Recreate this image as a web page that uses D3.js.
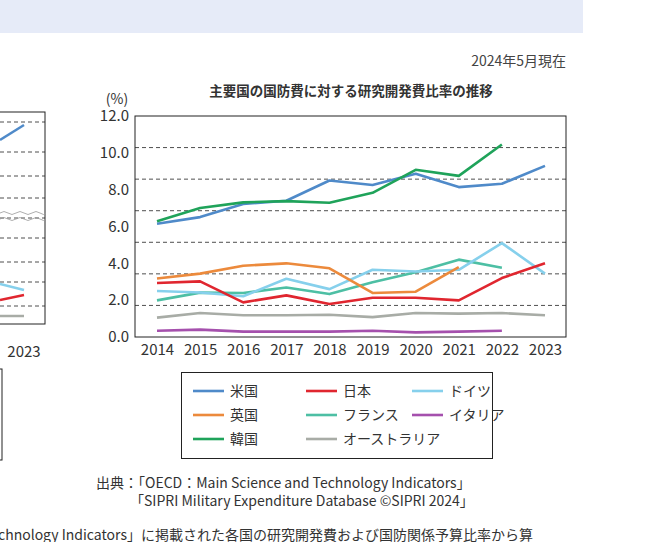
<!doctype html>
<html lang="ja">
<head>
<meta charset="utf-8">
<script src="https://d3js.org/d3.v7.min.js"></script>
<style>
  body { margin: 0; background: #fff; }
  svg { font-family: "Noto Sans CJK JP", "Noto Sans", sans-serif; }
</style>
</head>
<body>
<svg id="chart" width="662" height="542"></svg>
<script>
var years = [2014, 2015, 2016, 2017, 2018, 2019, 2020, 2021, 2022, 2023];
var yTicks = [0, 2, 4, 6, 8, 10, 12];
var names = ["米国", "英国", "韓国", "日本", "フランス", "オーストラリア", "ドイツ", "イタリア"];
var colors = ["#4f8ac9", "#ec8a3c", "#1fa35a", "#e0262f", "#4dbfa4", "#a8aca6", "#86d0ec", "#a550ad"];
var us        = [6.15, 6.51, 7.22, 7.40, 8.50, 8.25, 8.86, 8.14, 8.32, 9.29];
var uk        = [3.18, 3.44, 3.87, 4.00, 3.73, 2.39, 2.46, 3.80];
var korea     = [6.29, 7.00, 7.31, 7.38, 7.29, 7.83, 9.08, 8.75, 10.45];
var japan     = [2.93, 3.02, 1.88, 2.26, 1.79, 2.13, 2.13, 1.99, 3.20, 4.00];
var france    = [1.99, 2.41, 2.39, 2.69, 2.33, 2.97, 3.51, 4.20, 3.76];
var australia = [1.05, 1.30, 1.18, 1.18, 1.21, 1.08, 1.30, 1.27, 1.30, 1.18];
var germany   = [2.50, 2.42, 2.21, 3.16, 2.60, 3.65, 3.56, 3.65, 5.10, 3.44];
var italy     = [0.34, 0.40, 0.29, 0.29, 0.29, 0.34, 0.25, 0.29, 0.34];
var seriesData = [us, uk, korea, japan, france, australia, germany, italy];
// drawing order (back to front)
var drawOrder = [7, 5, 4, 6, 1, 3, 0, 2];

var svg = d3.select("#chart");

// header band
svg.append("rect").attr("x", 0).attr("y", 0).attr("width", 583).attr("height", 33).attr("fill", "#e6ebf8");

svg.append("text").attr("x", 566).attr("y", 66).attr("text-anchor", "end")
  .attr("font-size", 14).attr("fill", "#444").text("2024年5月現在");
svg.append("text").attr("x", 351).attr("y", 96).attr("text-anchor", "middle")
  .attr("font-size", 13.5).attr("font-weight", "bold").attr("fill", "#333")
  .text("主要国の国防費に対する研究開発費比率の推移");
svg.append("text").attr("x", 117).attr("y", 104).attr("text-anchor", "middle")
  .attr("font-size", 14).attr("fill", "#333").text("(%)");

// partial left chart (cut off)
var lg = svg.append("g");
lg.append("rect").attr("x", -10).attr("y", 112).attr("width", 55).attr("height", 212)
  .attr("fill", "none").attr("stroke", "#222").attr("stroke-width", 1);
[122, 152, 176, 198, 218, 238, 262, 282, 306].forEach(function (yy) {
  lg.append("line").attr("x1", 0).attr("x2", 45).attr("y1", yy).attr("y2", yy)
    .attr("stroke", "#222").attr("stroke-dasharray", "4,3").attr("stroke-width", 0.8);
});
lg.append("path").attr("d", "M0,213 q4,-3 8,0 t8,0 t8,0 t8,0 t8,0 t6,0 M0,219 q4,-3 8,0 t8,0 t8,0 t8,0 t8,0 t6,0")
  .attr("fill", "none").attr("stroke", "#999").attr("stroke-width", 0.8);
lg.append("line").attr("x1", 0).attr("y1", 140).attr("x2", 24).attr("y2", 125).attr("stroke", "#4f8ac9").attr("stroke-width", 2.5);
lg.append("line").attr("x1", 0).attr("y1", 284).attr("x2", 24).attr("y2", 290).attr("stroke", "#86d0ec").attr("stroke-width", 2.5);
lg.append("line").attr("x1", 0).attr("y1", 300).attr("x2", 24).attr("y2", 295).attr("stroke", "#e0262f").attr("stroke-width", 2.5);
lg.append("line").attr("x1", 0).attr("y1", 316).attr("x2", 24).attr("y2", 316).attr("stroke", "#a8aca6").attr("stroke-width", 2.5);
lg.append("text").attr("x", 24).attr("y", 357).attr("text-anchor", "middle").attr("font-size", 15).attr("fill", "#333").text("2023");
lg.append("rect").attr("x", -10).attr("y", 369).attr("width", 12).attr("height", 91)
  .attr("fill", "none").attr("stroke", "#222");

// main chart
var pLeft = 135, pRight = 566, pTop = 116, pBottom = 337;
var x = d3.scalePoint().domain(years).range([157, 545]);
var y = d3.scaleLinear().domain([0, 12]).range([pBottom, pTop]);

var g = svg.append("g");
d3.range(1, 7).forEach(function (k) {
  var yy = pTop + (pBottom - pTop) * k / 7;
  g.append("line").attr("x1", pLeft).attr("x2", pRight).attr("y1", yy).attr("y2", yy)
    .attr("stroke", "#222").attr("stroke-width", 0.8).attr("stroke-dasharray", "4,3");
});

var yAxis = g.append("g").attr("transform", "translate(" + pLeft + ",0)")
  .call(d3.axisLeft(y).tickValues(yTicks).tickFormat(d3.format(".1f")).tickSize(0).tickPadding(6));
yAxis.select(".domain").remove();
yAxis.selectAll("text").attr("font-size", 15).attr("fill", "#333").attr("font-family", "Noto Sans CJK JP, sans-serif");

var xAxis = g.append("g").attr("transform", "translate(0," + pBottom + ")")
  .call(d3.axisBottom(x).tickSize(0).tickPadding(7));
xAxis.select(".domain").remove();
xAxis.selectAll("text").attr("font-size", 15).attr("fill", "#333").attr("font-family", "Noto Sans CJK JP, sans-serif");

var line = d3.line().x(function (d, i) { return x(years[i]); }).y(function (d) { return y(d); });
drawOrder.forEach(function (i) {
  g.append("path").datum(seriesData[i]).attr("d", line).attr("fill", "none")
    .attr("stroke", colors[i]).attr("stroke-width", 2.6).attr("stroke-linejoin", "round");
});

g.append("rect").attr("x", pLeft).attr("y", pTop).attr("width", pRight - pLeft).attr("height", pBottom - pTop)
  .attr("fill", "none").attr("stroke", "#222").attr("stroke-width", 1);

// legend
var leg = svg.append("g");
leg.append("rect").attr("x", 181.5).attr("y", 372.5).attr("width", 311).attr("height", 86)
  .attr("fill", "none").attr("stroke", "#222");
var colX = [193, 306, 412], rowY = [391, 415, 439];
names.forEach(function (n, i) {
  var c = Math.floor(i / 3), r = i % 3;
  var lx = colX[c], yy = rowY[r];
  leg.append("line").attr("x1", lx).attr("x2", lx + 31).attr("y1", yy).attr("y2", yy)
    .attr("stroke", colors[i]).attr("stroke-width", 2.6);
  leg.append("text").attr("x", lx + 37).attr("y", yy + 5).attr("font-size", 14).attr("fill", "#333").text(n);
});

// source
svg.append("text").attr("x", 96).attr("y", 488).attr("font-size", 14).attr("fill", "#333")
  .text("出典：「OECD：Main Science and Technology Indicators」");
svg.append("text").attr("x", 130).attr("y", 506).attr("font-size", 14).attr("fill", "#333")
  .text("「SIPRI Military Expenditure Database ©SIPRI 2024」");
svg.append("text").attr("x", -2).attr("y", 540).attr("font-size", 14).attr("fill", "#333")
  .text("chnology Indicators」に掲載された各国の研究開発費および国防関係予算比率から算");
</script>
</body>
</html>
